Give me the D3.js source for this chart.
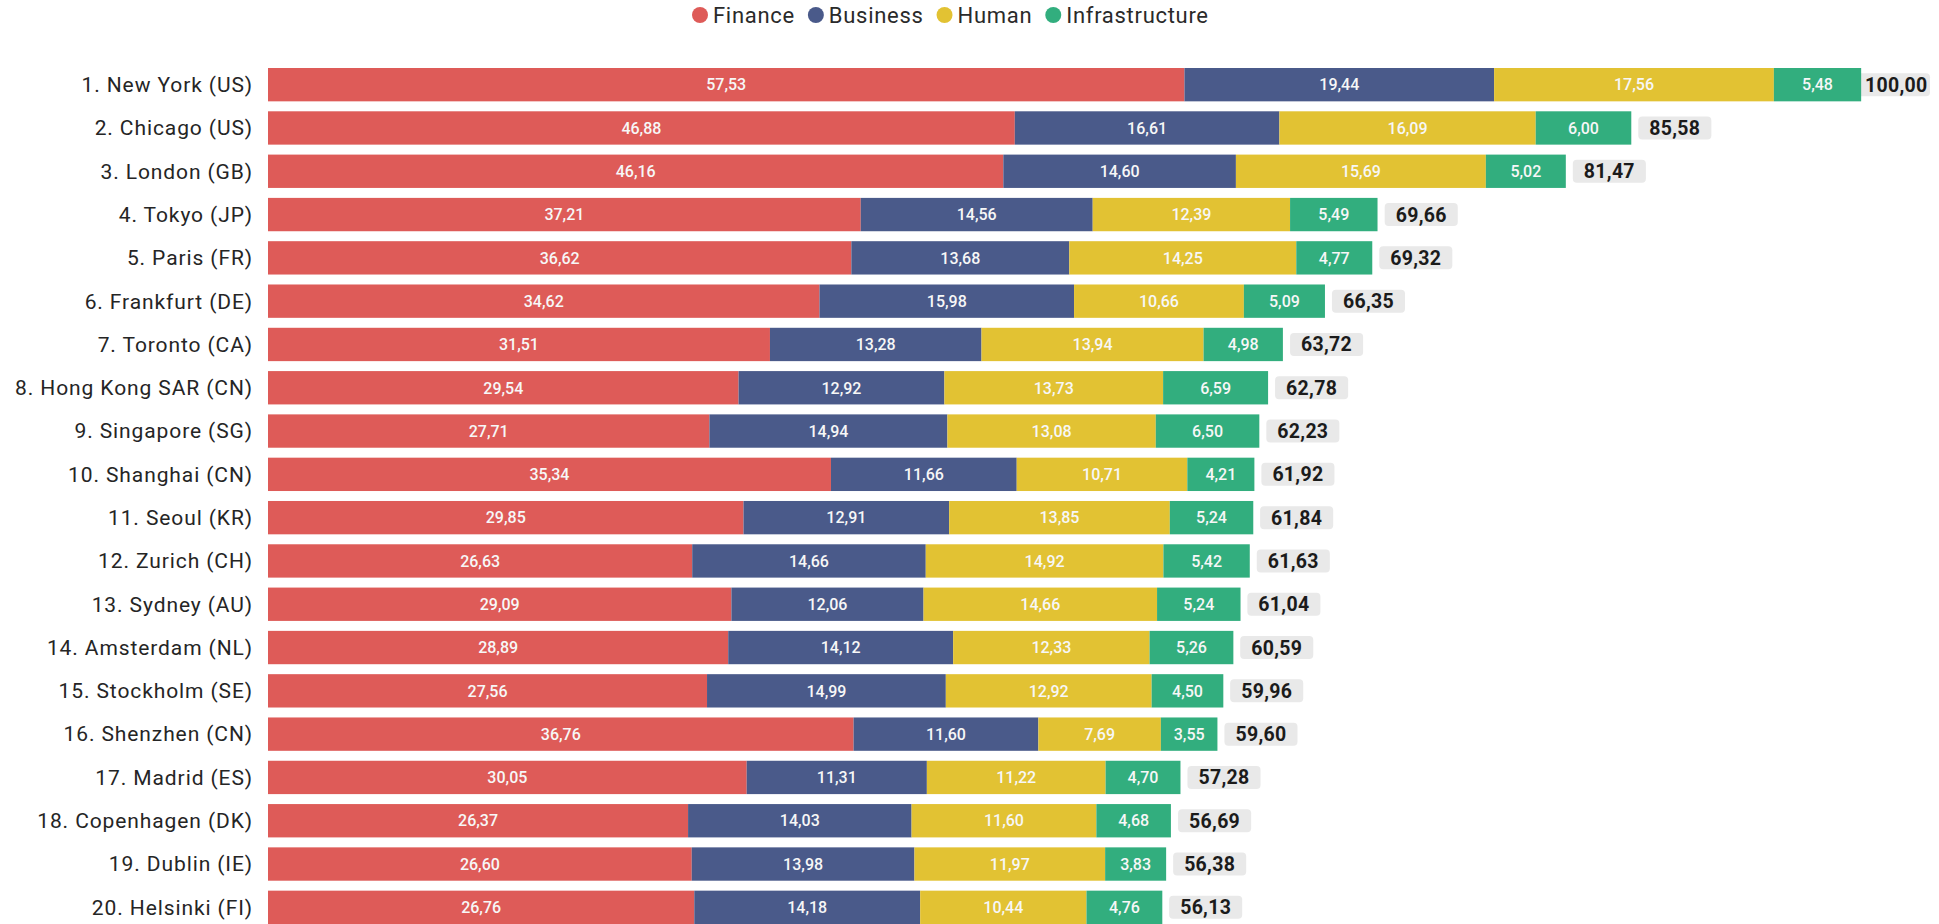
<!DOCTYPE html>
<html>
<head>
<meta charset="utf-8">
<script src="https://d3js.org/d3.v7.min.js"></script>
<style>
  body { margin: 0; background: #fff; }
  svg { display: block; font-family: Roboto, "Noto Sans", sans-serif; }
</style>
</head>
<body>
<svg id="chart" width="1939" height="924"></svg>
<script>
var cities = ["1. New York (US)", "2. Chicago (US)", "3. London (GB)", "4. Tokyo (JP)", "5. Paris (FR)",
  "6. Frankfurt (DE)", "7. Toronto (CA)", "8. Hong Kong SAR (CN)", "9. Singapore (SG)", "10. Shanghai (CN)",
  "11. Seoul (KR)", "12. Zurich (CH)", "13. Sydney (AU)", "14. Amsterdam (NL)", "15. Stockholm (SE)",
  "16. Shenzhen (CN)", "17. Madrid (ES)", "18. Copenhagen (DK)", "19. Dublin (IE)", "20. Helsinki (FI)"];
var finance = [57.53, 46.88, 46.16, 37.21, 36.62, 34.62, 31.51, 29.54, 27.71, 35.34, 29.85, 26.63, 29.09, 28.89, 27.56, 36.76, 30.05, 26.37, 26.60, 26.76];
var business = [19.44, 16.61, 14.60, 14.56, 13.68, 15.98, 13.28, 12.92, 14.94, 11.66, 12.91, 14.66, 12.06, 14.12, 14.99, 11.60, 11.31, 14.03, 13.98, 14.18];
var human = [17.56, 16.09, 15.69, 12.39, 14.25, 10.66, 13.94, 13.73, 13.08, 10.71, 13.85, 14.92, 14.66, 12.33, 12.92, 7.69, 11.22, 11.60, 11.97, 10.44];
var infrastructure = [5.48, 6.00, 5.02, 5.49, 4.77, 5.09, 4.98, 6.59, 6.50, 4.21, 5.24, 5.42, 5.24, 5.26, 4.50, 3.55, 4.70, 4.68, 3.83, 4.76];
var totals = [100.00, 85.58, 81.47, 69.66, 69.32, 66.35, 63.72, 62.78, 62.23, 61.92, 61.84, 61.63, 61.04, 60.59, 59.96, 59.60, 57.28, 56.69, 56.38, 56.13];
var seriesNames = ["Finance", "Business", "Human", "Infrastructure"];
var colors = ["#de5b58", "#4a5a8a", "#e2c233", "#32ae7e"];

var W = 1939, H = 924;
var svg = d3.select("#chart");

var rows = cities.map(function (c, i) {
  return { city: c, Finance: finance[i], Business: business[i], Human: human[i], Infrastructure: infrastructure[i], total: totals[i] };
});

var fmt = d3.formatLocale({ decimal: ",", thousands: ".", grouping: [3], currency: ["", ""] }).format(".2f");

var x = d3.scaleLinear().domain([0, 100]).range([268, 1861]);
var y = d3.scaleBand().domain(cities).range([68, 924]).paddingInner(0.23).paddingOuter(0);
var color = d3.scaleOrdinal().domain(seriesNames).range(colors);

var stacked = d3.stack().keys(seriesNames)(rows);

// city labels
svg.append("g").selectAll("text")
  .data(rows).enter().append("text")
  .attr("x", 253)
  .attr("y", function (d) { return y(d.city) + y.bandwidth() / 2; })
  .attr("dy", "0.35em")
  .attr("text-anchor", "end")
  .attr("font-size", "21px")
  .attr("letter-spacing", "0.9px")
  .attr("fill", "#252525")
  .text(function (d) { return d.city; });

// total labels (drawn first so the bars sit on top)
var tot = svg.append("g").selectAll("g")
  .data(rows).enter().append("g");

tot.append("text")
  .attr("y", function (d) { return y(d.city) + y.bandwidth() / 2; })
  .attr("dy", "0.36em")
  .attr("font-size", "19.5px")
  .attr("font-weight", "bold")
  .attr("letter-spacing", "0.3px")
  .attr("fill", "#1b1b1b")
  .text(function (d) { return fmt(d.total); });

tot.each(function (d) {
  var g = d3.select(this);
  var t = g.select("text");
  var tw = t.node().getComputedTextLength();
  var w = tw + 22;
  var end = x(d.total);
  var bx = Math.min(end + 7, 1930 - w);
  g.insert("rect", "text")
    .attr("x", bx)
    .attr("y", y(d.city) + y.bandwidth() / 2 - 11.5)
    .attr("width", w)
    .attr("height", 23)
    .attr("rx", 4)
    .attr("fill", "#e9e9e9");
  t.attr("x", Math.max(bx + 11, end + 4));
});

// bars
var layer = svg.append("g").selectAll("g")
  .data(stacked).enter().append("g")
  .attr("fill", function (d) { return color(d.key); });

layer.selectAll("rect")
  .data(function (d) { return d; })
  .enter().append("rect")
  .attr("x", function (d) { return x(d[0]); })
  .attr("y", function (d) { return y(d.data.city); })
  .attr("width", function (d) { return x(d[1]) - x(d[0]); })
  .attr("height", y.bandwidth());

layer.selectAll("text")
  .data(function (d) { return d.map(function (p) { return { p: p, key: d.key }; }); })
  .enter().append("text")
  .attr("x", function (d) { return (x(d.p[0]) + x(d.p[1])) / 2; })
  .attr("y", function (d) { return y(d.p.data.city) + y.bandwidth() / 2; })
  .attr("dy", "0.36em")
  .attr("text-anchor", "middle")
  .attr("font-size", "16px")
  .attr("font-weight", 500)
  .attr("fill", "#f7f7f7")
  .text(function (d) { return fmt(d.p.data[d.key]); });

// legend
var legend = svg.append("g").attr("transform", "translate(700,15)");
var lx = 0;
seriesNames.forEach(function (k) {
  var item = legend.append("g").attr("transform", "translate(" + lx + ",0)");
  item.append("circle").attr("cx", 0).attr("cy", 0).attr("r", 8).attr("fill", color(k));
  var t = item.append("text")
    .attr("x", 13)
    .attr("dy", "0.36em")
    .attr("font-size", "22px")
    .attr("letter-spacing", "0.7px")
    .attr("fill", "#2a2a2a")
    .text(k);
  lx += 13 + t.node().getComputedTextLength() + 21;
});
</script>
</body>
</html>
